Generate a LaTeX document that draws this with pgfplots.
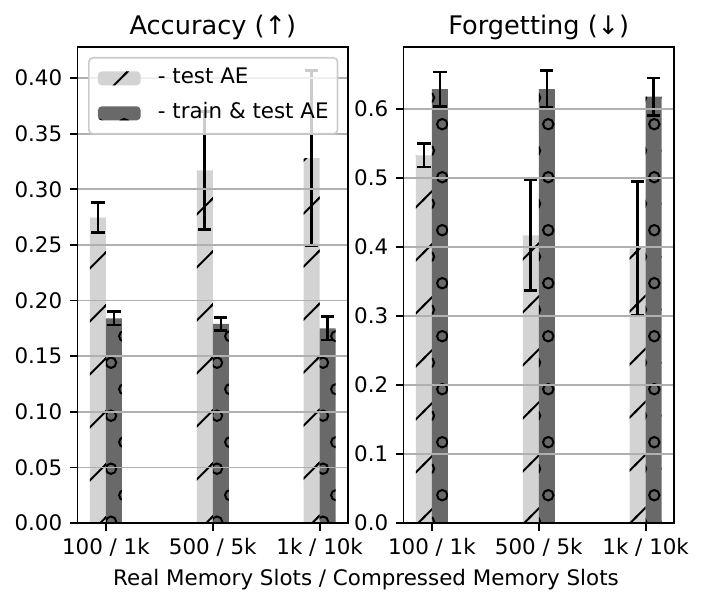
\documentclass[border=0pt]{standalone}
\usepackage{fontspec}
\setmainfont{DejaVu Sans}
\usepackage{pgfplots}
\pgfplotsset{compat=1.18}
\usetikzlibrary{patterns}

\definecolor{barlight}{RGB}{211,211,211}
\definecolor{bardark}{RGB}{105,105,105}
\definecolor{gridgray}{RGB}{176,176,176}
\definecolor{legendedge}{RGB}{204,204,204}

% sparse hatches, like matplotlib's '/' and 'o'
\pgfdeclarepatternformonly{sparse slash}{\pgfqpoint{-1pt}{-1pt}}{\pgfqpoint{27.5pt}{27.5pt}}{\pgfqpoint{26.5pt}{26.5pt}}{%
  \pgfsetlinewidth{1pt}%
  \pgfpathmoveto{\pgfqpoint{-1pt}{15.85pt}}%
  \pgfpathlineto{\pgfqpoint{10.65pt}{27.5pt}}%
  \pgfpathmoveto{\pgfqpoint{8.65pt}{-1pt}}%
  \pgfpathlineto{\pgfqpoint{27.5pt}{17.85pt}}%
  \pgfusepath{stroke}}
\pgfdeclarepatternformonly{sparse circles}{\pgfqpoint{-3.5pt}{-3.5pt}}{\pgfqpoint{16.75pt}{30pt}}{\pgfqpoint{13.25pt}{26.5pt}}{%
  \pgfsetlinewidth{1pt}%
  \pgfpathcircle{\pgfqpoint{2.5pt}{14.65pt}}{2.6pt}%
  \pgfpathcircle{\pgfqpoint{9.125pt}{1.4pt}}{2.6pt}%
  \pgfusepath{stroke}}

\pgfplotsset{
  panel/.style={
    width=135.2pt, height=238pt, scale only axis,
    anchor=south west,
    ybar, bar width=0.15,
    xmin=-0.265, xmax=2.265, ymin=0,
    xtick={0,1,2}, xticklabels={100 / 1k, 500 / 5k, 1k / 10k},
    xtick pos=left, ytick pos=left, tick align=outside,
    major tick length=3.75pt,
    tick style={black, line width=0.86pt},
    axis line style={black, line width=0.86pt},
    ymajorgrids, major grid style={gridgray, line width=0.86pt},
    axis on top,
    scaled y ticks=false,
    font=\fontsize{10.7}{12.8}\selectfont,
    every axis title/.style={at={(0.5,1)}, anchor=base, inner sep=0pt, yshift=6.4pt,
      font=\fontsize{12.8}{15}\selectfont},
    ticklabel style={inner sep=0pt},
    xticklabel shift=3.75pt, yticklabel shift=3.75pt,
    /pgf/number format/assume math mode=true,
    legend image code/.code={\path[##1, fill opacity=1] (0pt,-3.5pt) rectangle (21.4pt,3.5pt);},
  },
  light bars/.style={fill=barlight, draw=none, bar shift=-0.075,
    postaction={pattern=sparse slash, pattern color=black}},
  dark bars/.style={fill=bardark, draw=none, bar shift=0.075,
    postaction={pattern=sparse circles, pattern color=black}},
  err/.style={error bars/.cd, y dir=both, y explicit,
    error bar style={black, line width=1.3pt},
    error mark options={black, rotate=90, mark size=3.3pt, line width=1.3pt}},
}

\begin{document}
\begin{tikzpicture}
\useasboundingbox (0,0) rectangle (352.5pt,302pt);

\begin{axis}[panel, at={(38.8pt,40.5pt)}, ymax=0.428,
  title={Accuracy (↑)},
  ytick={0,0.05,0.1,0.15,0.2,0.25,0.3,0.35,0.4},
  yticklabel style={/pgf/number format/.cd, fixed, fixed zerofill, precision=2},
  legend cell align=left,
  legend style={at={(0.0385,0.979)}, anchor=north west,
    draw=legendedge, line width=0.86pt, fill=white, fill opacity=0.8,
    draw opacity=1, text opacity=1, rounded corners=2pt,
    inner xsep=4.5pt, inner ysep=5pt, row sep=7pt,
    nodes={inner sep=0pt, text height=8pt, text depth=2.5pt},
    /tikz/every odd column/.append style={column sep=8.6pt}}]
\addplot[light bars, err] coordinates {
  (0,0.2745) +- (0,0.0135)
  (1,0.317)  +- (0,0.053)
  (2,0.328)  +- (0,0.079)
};
\addlegendentry{- test AE}
\addplot[dark bars, err] coordinates {
  (0,0.184) +- (0,0.006)
  (1,0.179) +- (0,0.006)
  (2,0.175) +- (0,0.0105)
};
\addlegendentry{- train \& test AE}
\end{axis}

\begin{axis}[panel, at={(201.8pt,40.5pt)}, ymax=0.69,
  title={Forgetting (↓)},
  ytick={0,0.1,0.2,0.3,0.4,0.5,0.6},
  yticklabel style={/pgf/number format/.cd, fixed, fixed zerofill, precision=1}]
\addplot[light bars, err] coordinates {
  (0,0.533) +- (0,0.017)
  (1,0.417) +- (0,0.080)
  (2,0.398) +- (0,0.097)
};
\addplot[dark bars, err] coordinates {
  (0,0.629) +- (0,0.025)
  (1,0.629) +- (0,0.027)
  (2,0.618) +- (0,0.027)
};
\end{axis}

\node[anchor=base, font=\fontsize{10.7}{12.8}\selectfont] at (183pt,9.5pt)
  {Real Memory Slots / Compressed Memory Slots};
\end{tikzpicture}
\end{document}
